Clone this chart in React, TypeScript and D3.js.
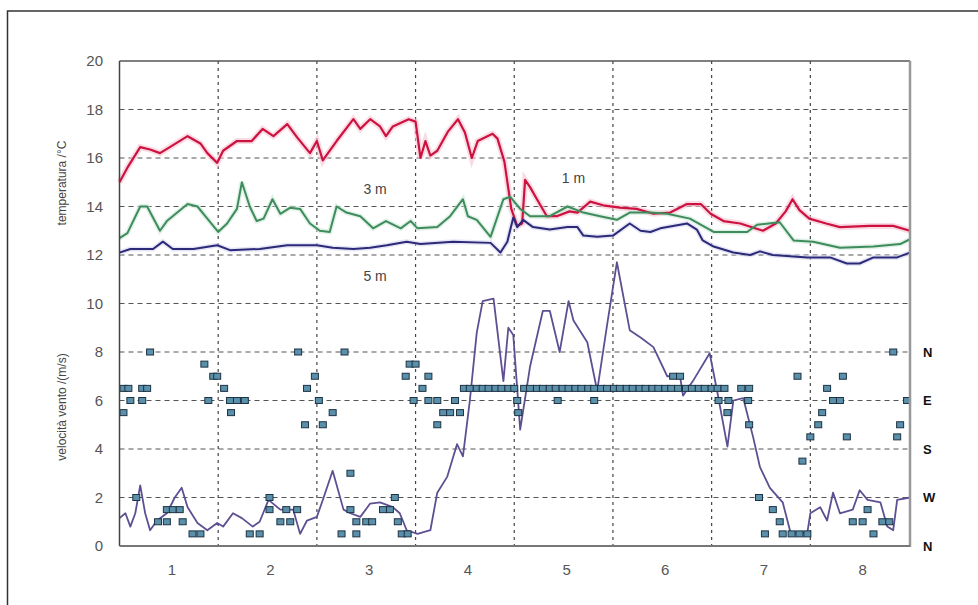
import React from "react";
import * as d3 from "d3";

// temperature series (day, °C)
const tempRed: [number, number][] = [
  [0.5, 15.0], [0.58, 15.6], [0.71, 16.45], [0.81, 16.35], [0.91, 16.2], [1.01, 16.45],
  [1.19, 16.9], [1.32, 16.6], [1.39, 16.2], [1.49, 15.8], [1.55, 16.3], [1.69, 16.7],
  [1.84, 16.7], [1.95, 17.2], [2.06, 16.9], [2.2, 17.4], [2.3, 16.85], [2.43, 16.2],
  [2.5, 16.7], [2.56, 15.9], [2.7, 16.7], [2.87, 17.6], [2.94, 17.2], [3.04, 17.6],
  [3.14, 17.3], [3.2, 16.9], [3.27, 17.3], [3.43, 17.6], [3.5, 17.5], [3.55, 16.0],
  [3.6, 16.7], [3.65, 16.1], [3.72, 16.3], [3.83, 17.1], [3.93, 17.6], [4.0, 17.05],
  [4.07, 16.0], [4.13, 16.7], [4.28, 17.0], [4.33, 16.8], [4.4, 15.85], [4.47, 13.9],
  [4.53, 13.2], [4.58, 13.3], [4.61, 15.1], [4.66, 14.8], [4.73, 14.3], [4.83, 13.6],
  [4.93, 13.6], [5.06, 13.8], [5.14, 13.75], [5.27, 14.2], [5.4, 14.05], [5.57, 13.95],
  [5.74, 13.9], [5.91, 13.7], [6.08, 13.75], [6.25, 14.1], [6.39, 14.1], [6.49, 13.7],
  [6.62, 13.4], [6.79, 13.3], [7.02, 13.0], [7.15, 13.3], [7.25, 13.8], [7.32, 14.3],
  [7.39, 13.85], [7.49, 13.5], [7.66, 13.3], [7.8, 13.15], [8.1, 13.2], [8.34, 13.2],
  [8.51, 13.0],
];

const tempGreen: [number, number][] = [
  [0.5, 12.7], [0.58, 12.9], [0.71, 14.0], [0.78, 14.0], [0.91, 13.0], [0.98, 13.4],
  [1.19, 14.1], [1.29, 14.0], [1.39, 13.5], [1.5, 12.95], [1.59, 13.3], [1.69, 13.9],
  [1.74, 15.0], [1.82, 14.0], [1.89, 13.4], [1.96, 13.5], [2.05, 14.3], [2.13, 13.7],
  [2.23, 13.95], [2.33, 13.9], [2.43, 13.3], [2.53, 13.0], [2.63, 12.95], [2.7, 14.0],
  [2.8, 13.75], [2.94, 13.6], [3.07, 13.1], [3.2, 13.4], [3.35, 13.1], [3.45, 13.4],
  [3.52, 13.1], [3.72, 13.15], [3.85, 13.6], [3.98, 14.3], [4.03, 13.6], [4.12, 13.45],
  [4.26, 12.75], [4.39, 14.3], [4.46, 14.4], [4.56, 13.9], [4.66, 13.6], [4.86, 13.6],
  [5.04, 14.0], [5.2, 13.75], [5.37, 13.6], [5.54, 13.45], [5.67, 13.75], [5.88, 13.75],
  [6.05, 13.7], [6.28, 13.5], [6.52, 12.95], [6.86, 12.95], [6.96, 13.25], [7.19, 13.35],
  [7.33, 12.6], [7.53, 12.55], [7.8, 12.3], [8.14, 12.35], [8.41, 12.45], [8.51, 12.65],
];

const tempBlue: [number, number][] = [
  [0.5, 12.1], [0.61, 12.25], [0.84, 12.25], [0.94, 12.55], [1.04, 12.25], [1.25, 12.25],
  [1.49, 12.4], [1.62, 12.2], [1.92, 12.25], [2.2, 12.4], [2.5, 12.4], [2.66, 12.3],
  [2.87, 12.25], [3.04, 12.3], [3.21, 12.4], [3.41, 12.55], [3.55, 12.45], [3.88, 12.55],
  [4.26, 12.5], [4.36, 12.1], [4.43, 12.55], [4.49, 13.55], [4.53, 13.15], [4.59, 13.45],
  [4.69, 13.15], [4.86, 13.05], [5.04, 13.15], [5.14, 13.15], [5.2, 12.8], [5.34, 12.75],
  [5.5, 12.8], [5.67, 13.3], [5.78, 13.0], [5.88, 12.95], [5.98, 13.1], [6.25, 13.3],
  [6.35, 13.05], [6.41, 12.6], [6.52, 12.35], [6.72, 12.1], [6.89, 12.0], [6.99, 12.15],
  [7.12, 12.0], [7.47, 11.9], [7.7, 11.9], [7.87, 11.65], [8.0, 11.65], [8.14, 11.9],
  [8.38, 11.9], [8.51, 12.1],
];

// wind speed (day, m/s)
const windSpeed: [number, number][] = [
  [0.5, 1.15], [0.56, 1.35], [0.61, 0.8], [0.66, 1.35], [0.71, 2.5], [0.76, 1.35],
  [0.81, 0.65], [0.88, 1.05], [0.98, 1.35], [1.06, 2.0], [1.13, 2.4], [1.19, 1.6],
  [1.29, 0.95], [1.39, 0.65], [1.49, 0.95], [1.55, 0.8], [1.65, 1.35], [1.74, 1.15],
  [1.85, 0.8], [1.92, 1.0], [2.01, 1.9], [2.13, 1.5], [2.26, 1.5], [2.33, 0.5],
  [2.4, 1.05], [2.5, 1.2], [2.56, 1.9], [2.66, 3.1], [2.77, 1.5], [2.84, 1.35],
  [2.94, 1.2], [3.04, 1.75], [3.14, 1.8], [3.27, 1.6], [3.34, 1.35], [3.41, 0.65],
  [3.52, 0.5], [3.65, 0.65], [3.72, 2.2], [3.82, 2.85], [3.92, 4.2], [3.98, 3.7],
  [4.05, 6.0], [4.12, 8.8], [4.18, 10.1], [4.29, 10.2], [4.39, 6.8], [4.44, 9.0],
  [4.49, 8.7], [4.56, 4.8], [4.66, 7.4], [4.79, 9.7], [4.86, 9.7], [4.96, 8.0],
  [5.05, 10.1], [5.1, 9.3], [5.24, 8.4], [5.34, 6.4], [5.44, 9.1], [5.54, 11.7],
  [5.67, 8.9], [5.78, 8.6], [5.91, 8.2], [6.05, 7.0], [6.18, 7.0], [6.21, 6.2],
  [6.31, 6.8], [6.48, 7.95], [6.56, 6.3], [6.66, 4.1], [6.72, 6.0], [6.82, 6.1],
  [6.92, 4.5], [6.99, 3.25], [7.09, 2.4], [7.22, 1.8], [7.3, 0.55], [7.47, 0.55],
  [7.5, 1.35], [7.6, 1.6], [7.67, 1.05], [7.73, 2.2], [7.8, 1.35], [7.93, 1.5],
  [8.0, 2.3], [8.08, 1.9], [8.21, 1.8], [8.28, 0.8], [8.34, 0.65], [8.38, 1.9],
  [8.51, 2.0],
];

// wind direction (day, position on the N-W-S-E-N scale)
const windDir: [number, number][] = [
  [0.54, 6.5], [0.59, 6.5], [0.73, 6.5], [0.78, 6.5], [0.61, 6.0], [0.73, 6.0], [0.54, 5.5],
  [0.81, 8.0], [0.67, 2.0], [1.36, 7.5], [1.45, 7.0], [1.49, 7.0], [1.56, 6.5], [1.4, 6.0],
  [1.62, 6.0], [1.69, 6.0], [1.77, 6.0], [1.63, 5.5], [0.98, 1.5], [1.04, 1.5], [1.11, 1.5],
  [0.89, 1.0], [0.98, 1.0], [1.14, 1.0], [1.24, 0.5], [1.32, 0.5], [1.82, 0.5], [1.92, 0.5],
  [2.02, 2.0], [2.02, 1.5], [2.19, 1.5], [2.3, 1.5], [2.13, 1.0], [2.23, 1.0], [2.31, 8.0],
  [2.48, 7.0], [2.4, 6.5], [2.52, 6.0], [2.38, 5.0], [2.56, 5.0], [2.66, 5.5], [2.78, 8.0],
  [2.84, 3.0], [2.75, 0.5], [2.9, 1.0], [2.84, 1.5], [2.9, 0.5], [3.0, 1.0], [3.06, 1.0],
  [3.17, 1.5], [3.24, 1.5], [3.29, 2.0], [3.32, 1.0], [3.36, 0.5], [3.42, 0.5], [3.44, 7.5],
  [3.5, 7.5], [3.4, 7.0], [3.63, 7.0], [3.57, 6.5], [3.48, 6.0], [3.63, 6.0], [3.72, 6.0],
  [3.9, 6.0], [3.78, 5.5], [3.85, 5.5], [3.95, 5.5], [3.72, 5.0],
  [3.99, 6.5], [4.05, 6.5], [4.12, 6.5], [4.18, 6.5], [4.24, 6.5], [4.31, 6.5], [4.37, 6.5],
  [4.44, 6.5], [4.5, 6.5], [4.6, 6.5], [4.66, 6.5], [4.73, 6.5], [4.79, 6.5], [4.86, 6.5],
  [4.92, 6.5], [4.99, 6.5], [5.05, 6.5], [5.12, 6.5], [5.18, 6.5], [5.25, 6.5], [5.31, 6.5],
  [5.38, 6.5], [5.44, 6.5], [5.51, 6.5], [5.57, 6.5], [5.64, 6.5], [5.7, 6.5], [5.77, 6.5],
  [5.83, 6.5], [5.9, 6.5], [5.96, 6.5], [6.03, 6.5], [6.09, 6.5], [6.16, 6.5], [6.24, 6.5],
  [6.3, 6.5], [6.37, 6.5], [6.43, 6.5], [6.5, 6.5], [6.56, 6.5], [6.63, 6.5], [6.8, 6.5],
  [6.88, 6.5],
  [4.53, 6.0], [4.94, 6.0], [5.31, 6.0], [4.54, 5.5], [6.11, 7.0], [6.18, 7.0], [6.57, 6.0],
  [6.67, 6.0], [6.87, 6.0], [6.66, 5.5], [6.88, 5.0], [7.37, 7.0], [7.83, 7.0], [7.67, 6.5],
  [7.73, 6.0], [7.8, 6.0], [8.48, 6.0], [7.62, 5.5], [7.58, 5.0], [8.41, 5.0], [7.5, 4.5],
  [7.87, 4.5], [8.38, 4.5], [7.42, 3.5], [8.34, 8.0], [6.98, 2.0], [7.12, 1.5], [7.19, 1.0],
  [7.04, 0.5], [7.22, 0.5], [7.31, 0.5], [7.39, 0.5], [7.47, 0.5], [8.08, 1.5], [7.93, 1.0],
  [8.03, 1.0], [8.23, 1.0], [8.14, 0.5], [8.3, 1.0],
];

const yTicks = [0, 2, 4, 6, 8, 10, 12, 14, 16, 18, 20];
const dayLabels = [1, 2, 3, 4, 5, 6, 7, 8];
const dayBounds = [1.5, 2.5, 3.5, 4.5, 5.5, 6.5, 7.5];
const compass = [
  { v: 8, label: "N" },
  { v: 6, label: "E" },
  { v: 4, label: "S" },
  { v: 2, label: "W" },
  { v: 0, label: "N" },
];
const depthLabels = [
  { x: 3.09, y: 14.72, text: "3 m" },
  { x: 5.1, y: 15.18, text: "1 m" },
  { x: 3.09, y: 11.13, text: "5 m" },
];

const W = 978;
const H = 605;
const left = 119.5;
const top = 61;
const right = 910;
const bottom = 546;

export default function App() {
  const x = d3.scaleLinear().domain([0.5, 8.51]).range([left, right]);
  const y = d3.scaleLinear().domain([0, 20]).range([bottom, top]);
  const line = d3
    .line<[number, number]>()
    .x((d) => x(d[0]))
    .y((d) => y(d[1]));

  const font = "Liberation Sans, Arial, sans-serif";

  return (
    <svg
      width={W}
      height={H}
      style={{ position: "absolute", left: 0, top: 0, background: "#fff" }}
      fontFamily={font}
    >
      <rect x={7.5} y={11} width={1000} height={1000} fill="none" stroke="#333" strokeWidth={1.5} />

      {/* grid */}
      {yTicks.filter((t) => t > 0 && t < 20).map((t) => (
        <line key={"h" + t} x1={left} x2={right} y1={y(t)} y2={y(t)}
          stroke="#555" strokeWidth={1.2} strokeDasharray="5,4" />
      ))}
      {dayBounds.map((d) => (
        <line key={"v" + d} x1={x(d)} x2={x(d)} y1={top} y2={bottom}
          stroke="#444" strokeWidth={1.2} strokeDasharray="3,4" />
      ))}

      {/* temperatures */}
      <path d={line(tempRed) ?? ""} fill="none" stroke="#f6c3d0" strokeWidth={6} opacity={0.6} />
      <path d={line(tempGreen) ?? ""} fill="none" stroke="#cfe7d8" strokeWidth={5} opacity={0.6} />
      <path d={line(tempBlue) ?? ""} fill="none" stroke="#d6d6ee" strokeWidth={5} opacity={0.6} />
      <path d={line(tempRed) ?? ""} fill="none" stroke="#cc1240" strokeWidth={2.2} strokeLinejoin="round" />
      <path d={line(tempGreen) ?? ""} fill="none" stroke="#3e8c5c" strokeWidth={2} strokeLinejoin="round" />
      <path d={line(tempBlue) ?? ""} fill="none" stroke="#2c2a78" strokeWidth={2} strokeLinejoin="round" />

      {/* wind */}
      <path d={line(windSpeed) ?? ""} fill="none" stroke="#5e4f92" strokeWidth={1.8} strokeLinejoin="round" />
      {windDir.map((d, i) => (
        <rect key={"s" + i} x={x(d[0]) - 3.5} y={y(d[1]) - 3} width={7} height={6}
          fill="#5b90ab" stroke="#1c3344" strokeWidth={1} />
      ))}

      {/* frame */}
      <line x1={left} x2={left} y1={top} y2={bottom} stroke="#444" strokeWidth={1.5} />
      <line x1={left} x2={right} y1={top} y2={top} stroke="#555" strokeWidth={1.5} />
      <line x1={right} x2={right} y1={top} y2={bottom + 1} stroke="#999" strokeWidth={2.5} />
      <line x1={left} x2={right} y1={bottom} y2={bottom} stroke="#777" strokeWidth={2} />

      {/* y labels */}
      {yTicks.map((t) => (
        <text key={"yl" + t} x={103} y={y(t)} dy="0.35em" textAnchor="end" fontSize={15} fill="#555">
          {t}
        </text>
      ))}
      {dayLabels.map((d) => (
        <text key={"xl" + d} x={x(d) + 3} y={570} dy="0.35em" textAnchor="middle" fontSize={15} fill="#555">
          {d}
        </text>
      ))}
      {compass.map((c, i) => (
        <text key={"c" + i} x={923} y={y(c.v)} dy="0.35em" fontSize={13} fontWeight="bold" fill="#111">
          {c.label}
        </text>
      ))}
      {depthLabels.map((l) => (
        <text key={l.text} x={x(l.x)} y={y(l.y)} dy="0.35em" textAnchor="middle" fontSize={14} fill="#444">
          {l.text}
        </text>
      ))}

      <text transform="translate(62,183) rotate(-90)" textAnchor="middle" dy="0.35em" fontSize={12} fill="#444">
        temperatura /°C
      </text>
      <text transform="translate(62,407) rotate(-90)" textAnchor="middle" dy="0.35em" fontSize={12} fill="#444">
        velocità vento /(m/s)
      </text>
    </svg>
  );
}
